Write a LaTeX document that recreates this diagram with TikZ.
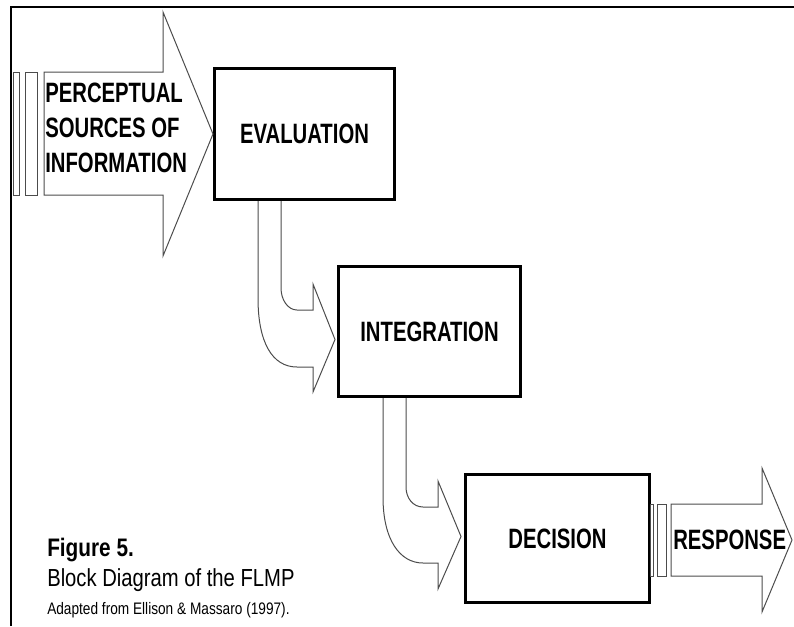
\documentclass[tikz,border=0pt]{standalone}
\usepackage{fontspec}
\setmainfont{Liberation Sans}
\newfontfamily\blockfont[FakeStretch=0.725]{Liberation Sans}
\newfontfamily\capfont[FakeStretch=0.82]{Liberation Sans}
\usetikzlibrary{calc}
\tikzset{
  stage/.style={rectangle, draw=black, line width=2.25pt, anchor=north west,
    inner sep=0pt, font=\blockfont\bfseries\fontsize{21}{27}\selectfont},
  fatarrow/.style={draw=black!70, line width=0.75pt, line join=miter},
  frame/.style={draw=black, line width=1.9pt},
  tag/.style={inner sep=0pt, align=left, anchor=west,
    font=\blockfont\bfseries\fontsize{21}{26.25}\selectfont},
  capbold/.style={inner sep=0pt, anchor=base west, font=\capfont\bfseries\fontsize{19}{21}\selectfont},
  captext/.style={inner sep=0pt, anchor=base west, font=\capfont\fontsize{18.5}{20}\selectfont},
  capsmall/.style={inner sep=0pt, anchor=base west, font=\capfont\fontsize{12.5}{14}\selectfont},
}

\begin{document}
\begin{tikzpicture}[x=0.75pt, y=-0.75pt]
\useasboundingbox (0,0) rectangle (794,626);

% ── Frame (top and left edges) ──
\draw[frame] (11,626) -- (11,7) -- (794,7);

% ── Stages ──
\node[stage, minimum width=135pt, minimum height=98.25pt] (eval) at (213,67) {EVALUATION};
\node[stage, minimum width=136.5pt, minimum height=97.5pt] (integ) at (337,265) {INTEGRATION};
\node[stage, minimum width=138pt, minimum height=96pt] (decis) at (464,473) {DECISION};

% ── Input arrow ──
\draw[fatarrow] (13,72) rectangle (19,195);
\draw[fatarrow] (25,72) rectangle (37,195);
\draw[fatarrow] (44,72) -- (163,72) -- (163,12) -- (eval.west)
  -- (163,256) -- (163,195) -- (44,195) -- cycle;
\node[tag] (percept) at (45,128) {PERCEPTUAL\\SOURCES OF\\INFORMATION};

% ── Evaluation -> Integration ──
\draw[fatarrow] ($(eval.south west)+(45,0)$) -- (258,298)
  .. controls (258,342) and (272,367) .. (297,367) -- (313,367) -- (313,392)
  -- ($(integ.west)+(-2,8)$) -- (313,284) -- (313,310) -- (297,310)
  .. controls (288,310) and (281,300) .. (281,288) -- ($(eval.south west)+(68,0)$);

% ── Integration -> Decision ──
\draw[fatarrow] ($(integ.south west)+(46,0)$) -- (383,497)
  .. controls (383,540) and (400,563) .. (423,563) -- (438,563) -- (438,589)
  -- ($(decis.west)+(-3,-2)$) -- (438,481) -- (438,507) -- (423,507)
  .. controls (413,507) and (406,498) .. (406,487) -- ($(integ.south west)+(69,0)$);

% ── Response arrow ──
\draw[fatarrow] (650,504) rectangle (653,576);
\draw[fatarrow] (657,504) rectangle (666,576);
\draw[fatarrow] (671,504) -- (762,504) -- (762,468) -- (792,540)
  -- (762,612) -- (762,576) -- (671,576) -- cycle;
\node[tag] (resp) at (673,540) {RESPONSE};

% ── Caption ──
\node[capbold] (figno) at (47,556) {Figure 5.};
\node[captext] (figtitle) at (47,586) {Block Diagram of the FLMP};
\node[capsmall] (figsrc) at (47,614) {Adapted from Ellison \& Massaro (1997).};

\end{tikzpicture}
\end{document}
